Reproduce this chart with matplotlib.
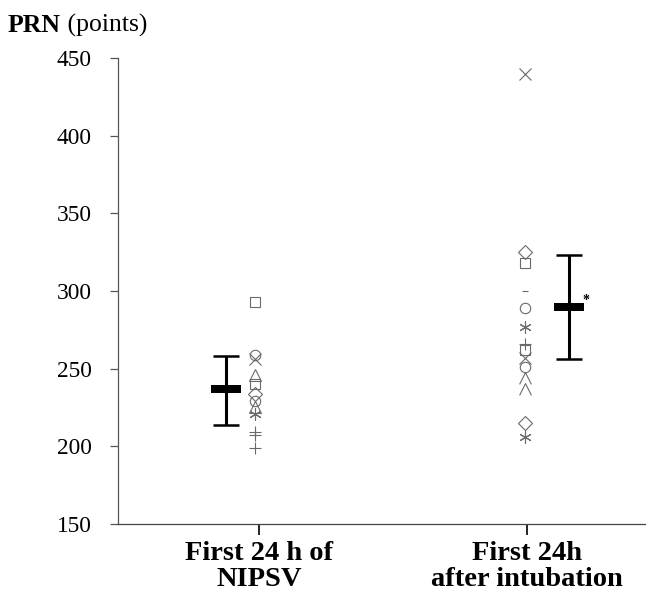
import matplotlib
matplotlib.use('Agg')
import matplotlib.pyplot as plt
from matplotlib.path import Path

# values (PRN points per patient)
categories = ['First 24 h of\nNIPSV', 'First 24h\nafter intubation']

nipsv_values = [293, 259, 256, 246, 240, 234, 229, 225, 221, 209, 207, 199]
nipsv_markers = ['s', 'o', 'x', '^', 's', 'D', 'o', '^', 'ast', '+', '+', '+']

intub_values = [440, 325, 318, 300, 289, 277, 266, 262, 257, 251, 244, 237, 215, 206]
intub_markers = ['x', 'D', 's', '_', 'o', 'ast', '+', 's', 'x', 'o', 'caret', 'caret', 'D', 'ast']

means = [237, 290]
upper = [258, 323]
lower = [214, 256]

plt.rcParams['font.family'] = ['Liberation Serif', 'DejaVu Serif']

caret = Path([(-1, -1), (0, 1), (1, -1)], [Path.MOVETO, Path.LINETO, Path.LINETO])
box = Path([(-1, -0.27), (1, -0.27), (1, 0.27), (-1, 0.27), (-1, -0.27)],
           [Path.MOVETO, Path.LINETO, Path.LINETO, Path.LINETO, Path.CLOSEPOLY])
shapes = {'ast': (6, 2, 0), 'caret': caret}
sizes = {'s': 7.5, 'o': 7.5, 'D': 7, 'x': 8.5, '+': 8.5, '^': 8.5, 'ast': 9, 'caret': 8.5, '_': 5}

gray = '#6a6a6a'


def plota_pontos(ax, x, valores, marcadores):
    for v, m in zip(valores, marcadores):
        ax.plot(x, v, marker=shapes.get(m, m), ls='none', mfc='none', mec=gray,
                mew=0.8, ms=sizes[m])


fig = plt.figure(figsize=(6.56, 5.97), dpi=100)
ax = fig.add_axes([0.180, 0.1223, 0.803, 0.7805])

plota_pontos(ax, 0.985, nipsv_values, nipsv_markers)
plota_pontos(ax, 1.993, intub_values, intub_markers)

bar_x = [0.877, 2.157]
for i in range(2):
    err = [[means[i] - lower[i]], [upper[i] - means[i]]]
    ax.errorbar(bar_x[i], means[i], yerr=err, fmt='none', ecolor='black',
                elinewidth=2.2, capsize=9.5, capthick=1.8)
    ax.plot(bar_x[i], means[i], marker=box, ms=21.5, color='black', mew=0)

ax.text(bar_x[1] + 0.064, means[1] + 4, '*', fontsize=10, fontweight='bold',
        ha='center', va='center')

ax.set_xlim(0.474, 2.44)
ax.set_ylim(150, 450)
ax.set_yticks(range(150, 451, 50))
ax.set_xticks([1, 2])
ax.set_xticklabels(categories, fontsize=20.5, fontweight='bold', linespacing=1.05)

for s in ['top', 'right']:
    ax.spines[s].set_visible(False)
ax.spines['left'].set_color('#555555')
ax.spines['bottom'].set_color('#444444')
ax.spines['left'].set_linewidth(0.9)
ax.spines['bottom'].set_linewidth(0.9)

ax.tick_params(axis='y', labelsize=16.8, length=6, width=0.9, color='#555555', pad=13)
ax.tick_params(axis='x', length=8, width=1.2, color='black', pad=4)

t1 = fig.text(0.012, 0.946, 'PRN', fontsize=18.5, fontweight='bold', va='baseline')
ax.annotate(' (points)', xy=(1, 0), xycoords=t1, fontsize=18.5, va='bottom', ha='left',
            annotation_clip=False)

fig.savefig('out.png', dpi=100)
